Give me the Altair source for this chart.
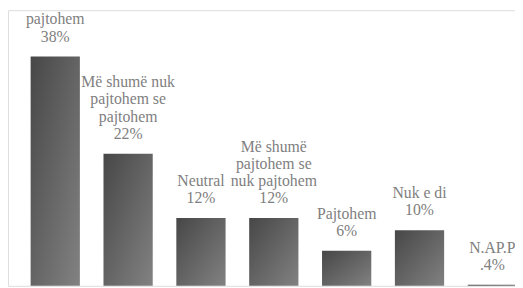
import altair as alt
import pandas as pd

categories = ["Plotësisht nuk pajtohem", "Më shumë nuk pajtohem se pajtohem", "Neutral",
              "Më shumë pajtohem se nuk pajtohem", "Pajtohem", "Nuk e di", "N.AP.P"]
label_lines = [
    ["Plotësisht nuk", "pajtohem", "38%"],
    ["Më shumë nuk", "pajtohem se", "pajtohem", "22%"],
    ["Neutral", "12%"],
    ["Më shumë", "pajtohem se", "nuk pajtohem", "12%"],
    ["Pajtohem", "6%"],
    ["Nuk e di", "10%"],
    ["N.AP.P", ".4%"],
]
values = [38, 22, 11.4, 11.4, 6, 9.4, 0.4]

df = pd.DataFrame({"cat": categories, "value": values})

rows = []
for c, v, lines in zip(categories, values, label_lines):
    for k, t in enumerate(reversed(lines)):
        rows.append({"cat": c, "value": v, "k": k, "line": t})
df_lines = pd.DataFrame(rows)

xscale = alt.Scale(domain=categories, range=[11, 529], paddingInner=0.324, paddingOuter=0.162)
yscale = alt.Scale(domain=[0, 40], range=[281.5, 34.7])

X = alt.X("cat:N", sort=categories, scale=xscale, axis=None)
Y = alt.Y("value:Q", scale=yscale, axis=None)

grad = alt.Gradient(
    gradient="linear",
    stops=[alt.GradientStop(color="#474747", offset=0),
           alt.GradientStop(color="#828282", offset=1)],
    x1=0, y1=0, x2=1, y2=1,
)

bars = alt.Chart(df).mark_bar(color=grad, clip=True).encode(x=X, y=Y)

FONT = "Liberation Serif, Times New Roman, serif"
text_layers = []
for k in range(4):
    text_layers.append(
        alt.Chart(df_lines).transform_filter(alt.datum.k == k).mark_text(
            font=FONT, fontSize=16, color="#808080",
            baseline="alphabetic", align="center", dy=-15 - 17.5 * k,
        ).encode(x=X, y=Y, text="line:N")
    )

chart = alt.layer(bars, *text_layers).properties(
    width=515, height=280, padding=0, autosize="none"
).configure_view(strokeWidth=0, stroke="transparent").configure(background="white")

chart.save("out.html", embed_options={"renderer": "svg", "actions": False})
